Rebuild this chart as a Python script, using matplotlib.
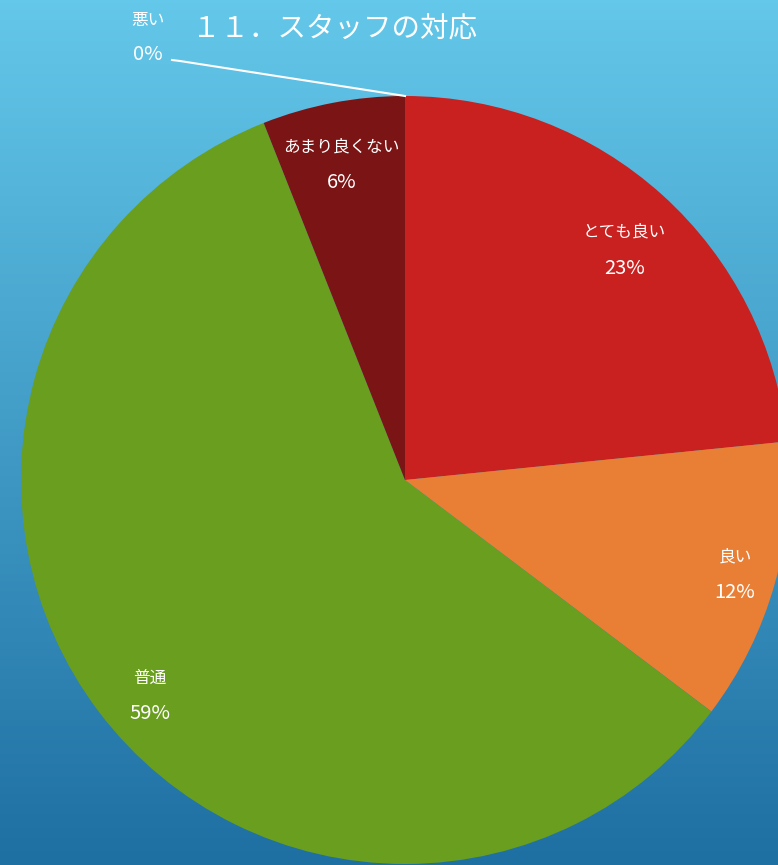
import numpy as np
import matplotlib
matplotlib.use("Agg")
import matplotlib.pyplot as plt

plt.rcParams['font.family'] = ['Noto Sans CJK JP', 'DejaVu Sans']

title = "１１．スタッフの対応"
categories = ["とても良い", "良い", "普通", "あまり良くない", "悪い"]
values = [23.4, 11.9, 58.7, 6.0, 0.0]
colors = ["#C82120", "#E87F35", "#699E1F", "#7B1414", "#4A7FBF"]

W, H = 778, 865
fig = plt.figure(figsize=(W / 100, H / 100), dpi=100)
ax = fig.add_axes([0, 0, 1, 1])

# background gradient
top = np.array([0x64, 0xC8, 0xEA]) / 255
bot = np.array([0x1E, 0x6F, 0xA2]) / 255
t = np.linspace(0, 1, 256)[:, None]
grad = (bot * (1 - t) + top * t)[:, None, :] * np.ones((1, 2, 1))
ax.imshow(grad, extent=[0, W, 0, H], origin='lower', aspect='auto', zorder=0)

cx, cy, R = 405, H - 480, 384
wedges, _ = ax.pie(values, colors=colors, startangle=90, counterclock=False,
                   center=(cx, cy), radius=R, frame=True,
                   wedgeprops=dict(linewidth=0))
for w in wedges:
    w.set_zorder(2)
ax.set_xlim(0, W)
ax.set_ylim(0, H)
ax.set_aspect('equal')
ax.axis('off')

# label layout: (radius fraction, angle offset in degrees)
layout = [(0.827, -1.5), (0.894, -0.4), (0.870, 3.0), (0.838, 0.6)]
for w, cat, v, (d, off) in zip(wedges, categories, values, layout):
    ang = np.deg2rad((w.theta1 + w.theta2) / 2 + off)
    x = cx + d * R * np.cos(ang)
    y = cy + d * R * np.sin(ang)
    ax.text(x, y + 18, cat, ha='center', va='center', color='white', fontsize=12, zorder=5)
    ax.text(x, y - 18, f"{round(v)}%", ha='center', va='center', color='white', fontsize=14.5, zorder=5)

# zero slice label with leader line
w0 = wedges[4]
ang = np.deg2rad(w0.theta1)
px, py = cx + R * np.cos(ang), cy + R * np.sin(ang)
ax.plot([px, 180, 172], [py, H - 61, H - 60], color='white', lw=1.5, zorder=5)
ax.text(148, H - 20, categories[4], ha='center', va='center', color='white', fontsize=12, zorder=5)
ax.text(148, H - 55, f"{round(values[4])}%", ha='center', va='center', color='white', fontsize=14.5, zorder=5)

ax.text(335, H - 29, title, ha='center', va='center', color='white', fontsize=20.5, zorder=5)

fig.savefig("out.png", dpi=100)
